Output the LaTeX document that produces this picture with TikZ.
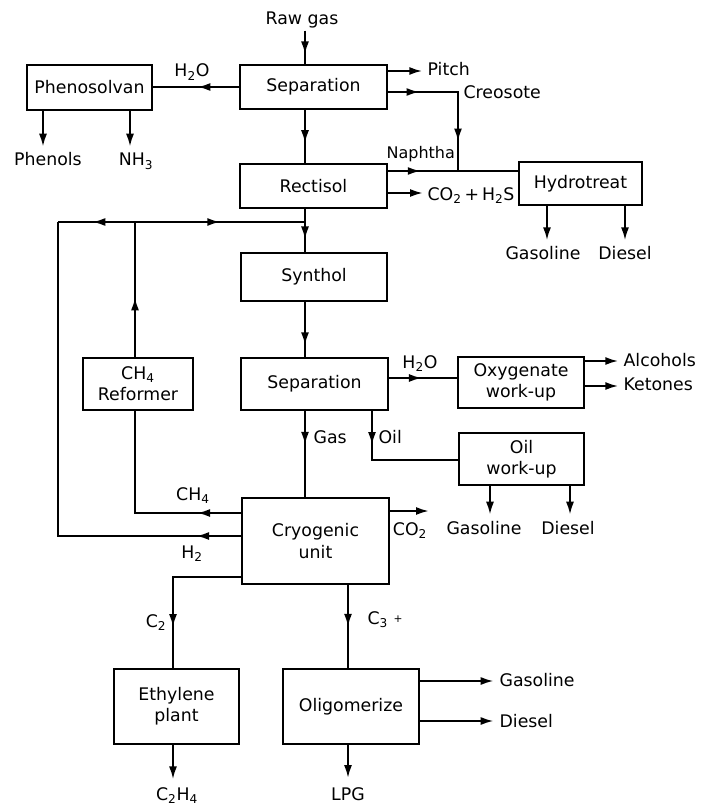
\documentclass[tikz,border=0pt]{standalone}
\usepackage{fontspec}
\setmainfont{DejaVu Sans}
\usetikzlibrary{arrows.meta,decorations.markings}
\newcommand{\mysub}[1]{\textsubscript{#1}}
\begin{document}
\begin{tikzpicture}[x=0.75pt,y=-0.75pt,
  font=\fontsize{13}{16}\selectfont,
  box/.style={draw, line width=1.3pt, align=center, inner sep=2pt},
  lbl/.style={inner sep=1pt, text height=9.5pt, text depth=3pt},
  flow/.style={line width=1.3pt},
  endarr/.style={flow, -{Latex[length=9.5pt,width=6pt]}},
  midarr/.style={flow, postaction={decorate}, decoration={markings, mark=at position #1 with {\arrow{Latex[length=9.5pt,width=6pt]}}}},
  twoarr/.style n args={2}{flow, postaction={decorate}, decoration={markings, mark=at position #1 with {\arrow{Latex[length=9.5pt,width=6pt]}}, mark=at position #2 with {\arrow{Latex[length=9.5pt,width=6pt]}}}}
]
\useasboundingbox (0,0) rectangle (705,806);

% boxes
\node[box, minimum width=110.25pt, minimum height=33pt] (sep1) at (313.5,87) {Separation};
\node[box, minimum width=93.75pt, minimum height=33.75pt] (phen) at (89.5,87.5) {Phenosolvan};
\node[box, minimum width=110.25pt, minimum height=33pt] (rect) at (313.5,186) {Rectisol};
\node[box, minimum width=92.25pt, minimum height=32.25pt] (hydro) at (580.5,183.5) {Hydrotreat};
\node[box, minimum width=109.5pt, minimum height=36pt] (synth) at (314,277) {Synthol};
\node[box, minimum width=110.25pt, minimum height=39pt] (sep2) at (314.5,384) {Separation};
\node[box, minimum width=82.5pt, minimum height=39pt] (reform) at (138,384) {CH\mysub{4}\\Reformer};
\node[box, minimum width=94.5pt, minimum height=38.25pt] (oxy) at (521,382.5) {Oxygenate\\work-up};
\node[box, minimum width=93.75pt, minimum height=39pt] (oil) at (521.5,459) {Oil\\work-up};
\node[box, minimum width=110.25pt, minimum height=64.5pt] (cryo) at (315.5,541) {Cryogenic\\unit};
\node[box, minimum width=93.75pt, minimum height=56.25pt] (eth) at (176.5,706.5) {Ethylene\\plant};
\node[box, minimum width=102pt, minimum height=56.25pt] (olig) at (351,706.5) {Oligomerize};

% labels
\node[lbl, anchor=base] (rawgas) at (302,25) {Raw gas};
\node[lbl, anchor=base] (h2oa) at (192,77) {H\mysub{2}O};
\node[lbl, anchor=base] (phenols) at (48,166) {Phenols};
\node[lbl, anchor=base] (nh3) at (136,166) {NH\mysub{3}};
\node[lbl, anchor=base west] (pitch) at (426,76) {Pitch};
\node[lbl, anchor=base west] (creo) at (462,99) {Creosote};
\node[lbl, anchor=base west, font=\fontsize{12}{14}\selectfont] (naph) at (385,159) {Naphtha};
\node[lbl, anchor=base west] (co2h2s) at (426,200) {CO\mysub{2}\,+\,H\mysub{2}S};
\node[lbl, anchor=base] (gas1) at (543,259) {Gasoline};
\node[lbl, anchor=base] (dies1) at (625,259) {Diesel};
\node[lbl, anchor=base west] (gaslbl) at (312,443) {Gas};
\node[lbl, anchor=base west] (oillbl) at (377,443) {Oil};
\node[lbl, anchor=base] (h2ob) at (420,368) {H\mysub{2}O};
\node[lbl, anchor=base west] (alc) at (622,366) {Alcohols};
\node[lbl, anchor=base west] (ket) at (622,390) {Ketones};
\node[lbl, anchor=base] (gas2) at (484,534) {Gasoline};
\node[lbl, anchor=base] (dies2) at (568,534) {Diesel};
\node[lbl, anchor=base] (co2lab) at (410,535) {CO\mysub{2}};
\node[lbl, anchor=base] (ch4lab) at (193,500) {CH\mysub{4}};
\node[lbl, anchor=base] (h2lab) at (192,558) {H\mysub{2}};
\node[lbl, anchor=base] (c2lab) at (156,627) {C\mysub{2}};
\node[lbl, anchor=base west] (c3lab) at (366,624) {C\mysub{3}};
\node[inner sep=0pt, font=\fontsize{8}{9}\selectfont] (c3plus) at (398,619) {+};
\node[lbl, anchor=base] (c2h4) at (177,800) {C\mysub{2}H\mysub{4}};
\node[lbl, anchor=base] (lpg) at (348,800) {LPG};
\node[lbl, anchor=base west] (gas3) at (498,686) {Gasoline};
\node[lbl, anchor=base west] (dies3) at (498,727) {Diesel};

% junctions
\coordinate (jm) at (305,222);
\coordinate (jr) at (135,222);
\coordinate (jl) at (58,222);
\coordinate (jn) at (458,171);

% connectors
\draw[midarr=0.7] (rawgas.south -| jm) -- (sep1.north -| jm);
\draw[midarr=0.48] (sep1.west |- 0,87) -- (phen.east |- 0,87);
\draw[midarr=0.62] (sep1.south -| jm) -- (rect.north -| jm);
\draw[endarr, shorten >=3pt] (sep1.east |- 0,71) -- (pitch.west |- 0,71);
\draw[twoarr={0.21}{0.8}] (sep1.east |- 0,92) -- (jn |- 0,92) -- (jn);
\draw[midarr=0.25] (rect.east |- jn) -- (hydro.west |- jn);
\draw[endarr, shorten >=2.5pt] (rect.east |- 0,193) -- (co2h2s.west |- 0,193);
\draw[endarr, shorten >=4pt] (phen.south -| 43,0) -- (phenols.north -| 43,0);
\draw[endarr, shorten >=4pt] (phen.south -| 130,0) -- (nh3.north -| 130,0);
\draw[endarr, shorten >=3.5pt] (hydro.south -| 547,0) -- (gas1.north -| 547,0);
\draw[endarr, shorten >=3.5pt] (hydro.south -| 625,0) -- (dies1.north -| 625,0);
\draw[midarr=0.7] (rect.south -| jm) -- (synth.north -| jm);
\draw[midarr=0.44] (reform.north -| jr) -- (jr);
\draw[midarr=0.5] (jr) -- (jm);
\draw[midarr=0.55] (jr) -- (jl);
\draw[midarr=0.09] (cryo.west |- 0,536) -- (jl |- 0,536) -- (jl);
\draw[midarr=0.78] (synth.south -| jm) -- (sep2.north -| jm);
\draw[midarr=0.48] (sep2.east |- 0,378) -- (oxy.west |- 0,378);
\draw[endarr, shorten >=3pt] (oxy.east |- 0,361) -- (alc.west |- 0,361);
\draw[endarr, shorten >=3pt] (oxy.east |- 0,386) -- (ket.west |- 0,386);
\draw[midarr=0.25] (sep2.south -| 372,0) -- (372,460) -- (oil.west |- 0,460);
\draw[endarr, shorten >=4pt] (oil.south -| 490,0) -- (gas2.north -| 490,0);
\draw[endarr, shorten >=4pt] (oil.south -| 570,0) -- (dies2.north -| 570,0);
\draw[midarr=0.39] (sep2.south -| jm) -- (cryo.north -| jm);
\draw[midarr=0.21] (cryo.west |- 0,513) -- (jr |- 0,513) -- (reform.south -| jr);
\draw[endarr] (cryo.east |- 0,511) -- (co2lab.east |- 0,511);
\draw[midarr=0.74] (cryo.west |- 0,577) -- (173,577) -- (eth.north -| 173,0);
\draw[midarr=0.5] (cryo.south -| 348,0) -- (olig.north -| 348,0);
\draw[endarr, shorten >=5pt] (eth.south -| 173,0) -- (c2h4.north -| 173,0);
\draw[endarr, shorten >=6pt] (olig.south -| 348,0) -- (lpg.north -| 348,0);
\draw[endarr, shorten >=3.5pt] (olig.east |- 0,681) -- (gas3.west |- 0,681);
\draw[endarr, shorten >=3.5pt] (olig.east |- 0,721) -- (dies3.west |- 0,721);
\end{tikzpicture}
\end{document}
